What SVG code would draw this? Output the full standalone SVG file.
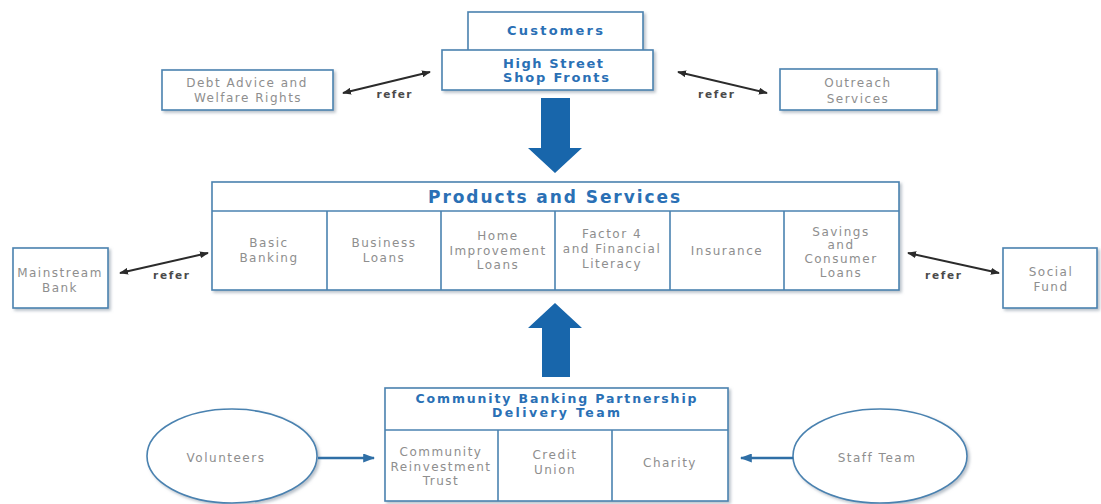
<svg xmlns="http://www.w3.org/2000/svg" width="1101" height="504" viewBox="0 0 1101 504">
<defs>
<filter id="sh" x="-10%" y="-10%" width="125%" height="130%">
<feDropShadow dx="2" dy="2" stdDeviation="1.5" flood-color="#7f8f9f" flood-opacity="0.55"/>
</filter>
<marker id="ah" viewBox="0 0 10 10" refX="9" refY="5" markerWidth="9" markerHeight="7" markerUnits="userSpaceOnUse" orient="auto-start-reverse" preserveAspectRatio="none">
<path d="M0,0 L10,5 L0,10 Z" fill="#2b2b2b"/>
</marker>
<marker id="bh" viewBox="0 0 10 10" refX="9" refY="5" markerWidth="12" markerHeight="9" markerUnits="userSpaceOnUse" orient="auto" preserveAspectRatio="none">
<path d="M0,0 L10,5 L0,10 Z" fill="#2f6fa6"/>
</marker>
</defs>
<style>
.box{fill:#ffffff;stroke:#4a82b0;stroke-width:1.6;filter:url(#sh)}
.ln{stroke:#4a82b0;stroke-width:1.6;fill:none}
.t{font-family:"DejaVu Sans","Liberation Sans",sans-serif;font-size:12px;fill:#8e8e8e;text-anchor:middle;letter-spacing:1.5px}
.h{font-family:"DejaVu Sans","Liberation Sans",sans-serif;font-weight:bold;fill:#2a70b5;text-anchor:middle}
.r{font-family:"DejaVu Sans","Liberation Sans",sans-serif;font-weight:bold;font-size:10.5px;fill:#4a4a4a;text-anchor:middle}
.ref{stroke:#2b2b2b;stroke-width:2;fill:none;marker-start:url(#ah);marker-end:url(#ah)}
.blu{stroke:#2f6fa6;stroke-width:2.5;fill:none;marker-end:url(#bh)}
.big{fill:#1866ab}
</style>
<rect width="1101" height="504" fill="#ffffff"/>

<g id="customers">
<rect class="box" x="468" y="12" width="175" height="42"/>
<text class="h" x="555" y="35" font-size="13" textLength="96">Customers</text>
</g>
<g id="high-street">
<rect class="box" x="442" y="50" width="211" height="40"/>
<text class="h" x="553" y="68" font-size="13" textLength="100">High Street</text>
<text class="h" x="556" y="82" font-size="13" textLength="106">Shop Fronts</text>
</g>
<g id="debt-advice">
<rect class="box" x="162" y="70" width="171" height="40"/>
<text class="t" x="247" y="87">Debt Advice and</text>
<text class="t" x="248" y="102">Welfare Rights</text>
</g>
<g id="outreach">
<rect class="box" x="780" y="69" width="157" height="41"/>
<text class="t" x="858" y="87">Outreach</text>
<text class="t" x="858" y="103">Services</text>
</g>

<g id="products">
<rect class="box" x="212" y="182" width="687" height="108"/>
<line class="ln" x1="212" y1="211" x2="899" y2="211"/>
<line class="ln" x1="327" y1="211" x2="327" y2="290"/>
<line class="ln" x1="441" y1="211" x2="441" y2="290"/>
<line class="ln" x1="555" y1="211" x2="555" y2="290"/>
<line class="ln" x1="670" y1="211" x2="670" y2="290"/>
<line class="ln" x1="784" y1="211" x2="784" y2="290"/>
<text class="h" x="554" y="203" font-size="17" textLength="252">Products and Services</text>
<text class="t" x="269" y="247">Basic</text>
<text class="t" x="269" y="262">Banking</text>
<text class="t" x="384" y="247">Business</text>
<text class="t" x="384" y="262">Loans</text>
<text class="t" x="498" y="240">Home</text>
<text class="t" x="498" y="255">Improvement</text>
<text class="t" x="498" y="269">Loans</text>
<text class="t" x="612" y="238">Factor 4</text>
<text class="t" x="612" y="253">and Financial</text>
<text class="t" x="612" y="268">Literacy</text>
<text class="t" x="727" y="255">Insurance</text>
<text class="t" x="841" y="236">Savings</text>
<text class="t" x="841" y="249">and</text>
<text class="t" x="841" y="263">Consumer</text>
<text class="t" x="841" y="277">Loans</text>
</g>

<g id="mainstream-bank">
<rect class="box" x="13" y="248" width="95" height="60"/>
<text class="t" x="60" y="277" letter-spacing="0.4">Mainstream</text>
<text class="t" x="60" y="292">Bank</text>
</g>
<g id="social-fund">
<rect class="box" x="1003" y="248" width="94" height="60"/>
<text class="t" x="1051" y="276">Social</text>
<text class="t" x="1051" y="291">Fund</text>
</g>

<g id="delivery-team">
<rect class="box" x="385" y="388" width="343" height="113"/>
<line class="ln" x1="385" y1="430" x2="728" y2="430"/>
<line class="ln" x1="498" y1="430" x2="498" y2="501"/>
<line class="ln" x1="612" y1="430" x2="612" y2="501"/>
<text class="h" x="556" y="403" font-size="12.5" textLength="281">Community Banking Partnership</text>
<text class="h" x="556" y="417" font-size="12.5" textLength="128">Delivery Team</text>
<text class="t" x="441" y="456">Community</text>
<text class="t" x="441" y="471" letter-spacing="0.6">Reinvestment</text>
<text class="t" x="441" y="485">Trust</text>
<text class="t" x="555" y="459">Credit</text>
<text class="t" x="555" y="474">Union</text>
<text class="t" x="670" y="467">Charity</text>
</g>

<g id="volunteers">
<ellipse class="box" cx="232" cy="456" rx="85" ry="47"/>
<text class="t" x="226" y="462">Volunteers</text>
</g>
<g id="staff-team">
<ellipse class="box" cx="880" cy="456" rx="87" ry="47"/>
<text class="t" x="877" y="462">Staff Team</text>
</g>

<g id="connectors">
<polygon class="big" points="541,98 570,98 570,148 582,148 555,173 528,148 541,148"/>
<polygon class="big" points="555,303 582,328 570,328 570,377 542,377 542,328 528,328"/>
<line class="ref" x1="343" y1="93" x2="430" y2="72"/>
<text class="r" x="394" y="98" textLength="35">refer</text>
<line class="ref" x1="678" y1="72" x2="767" y2="93"/>
<text class="r" x="716" y="98" textLength="36">refer</text>
<line class="ref" x1="120" y1="273" x2="208" y2="253"/>
<text class="r" x="171" y="279" textLength="36">refer</text>
<line class="ref" x1="908" y1="253" x2="999" y2="273"/>
<text class="r" x="943" y="279" textLength="36">refer</text>
<line class="blu" x1="318" y1="458" x2="374" y2="458"/>
<line class="blu" x1="793" y1="458" x2="741" y2="458"/>
</g>
</svg>
